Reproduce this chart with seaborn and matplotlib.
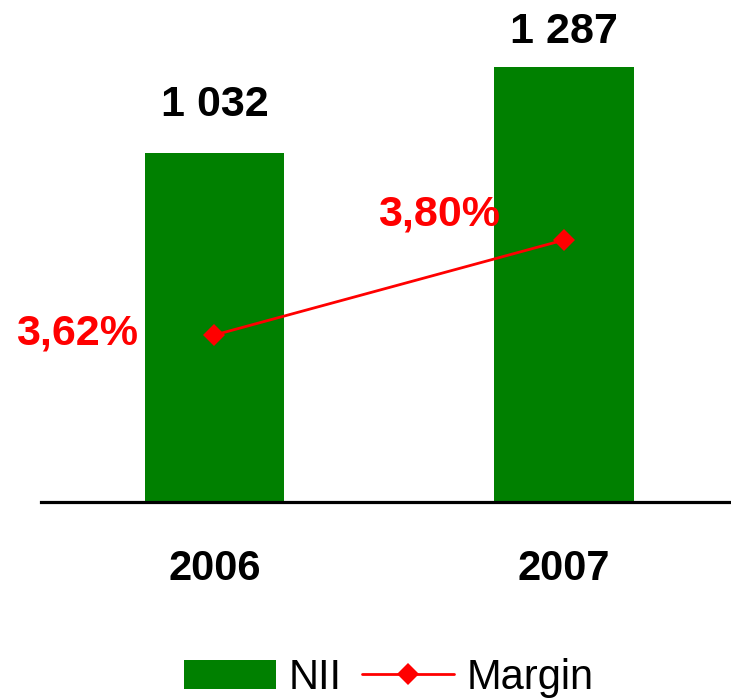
import matplotlib
matplotlib.use("Agg")
import matplotlib.pyplot as plt
import seaborn as sns

years = ["2006", "2007"]
nii = [1032, 1287]
margin = [3.62, 3.80]
series_labels = ["NII", "Margin"]

sns.set_theme(style="white")
plt.rcParams["font.family"] = ["Liberation Sans", "DejaVu Sans"]
plt.rcParams["text.color"] = "black"

GREEN = "#008000"
RED = "#ff0000"

fig = plt.figure(figsize=(7.31, 7.0), dpi=100)
ax = fig.add_axes([41 / 731, 1 - 502 / 700, 1 - 41 / 731, 502 / 700])

sns.barplot(x=years, y=nii, color=GREEN, saturation=1, width=0.4,
            linewidth=0, ax=ax)

ax2 = ax.twinx()
sns.pointplot(x=years, y=margin, color=RED, marker="D", markersize=11,
              markeredgewidth=0, ax=ax2)
for ln in ax2.lines:
    ln.set_linewidth(2.0)

xlim = (-0.4964, 1.4778)
ax.set_xlim(*xlim)
ax2.set_xlim(*xlim)
ax.set_ylim(0, 1485)
ax2.set_ylim(3.3036, 4.2547)

for a in (ax, ax2):
    for s in a.spines.values():
        s.set_visible(False)
    a.set_yticks([])
    a.set_ylabel("")
    a.set_xlabel("")
ax.spines["bottom"].set_visible(True)
ax.spines["bottom"].set_color("black")
ax.spines["bottom"].set_linewidth(2.3)
ax.tick_params(axis="x", length=0, pad=34, labelsize=30, labelcolor="black")
ax2.tick_params(axis="x", length=0, labelbottom=False)
for t in ax.get_xticklabels():
    t.set_fontweight("bold")
    t.set_color("black")

# value labels on bars
bar_offsets = [35, 25]
for i, v in enumerate(nii):
    ax.annotate(f"{v:,}".replace(",", " "), xy=(i, v),
                xytext=(0, bar_offsets[i]), textcoords="offset points",
                ha="center", va="center", fontsize=31, fontweight="bold",
                color="black")

# margin labels
m_offsets = [(-99, 1), (-90, 18)]
for i, m in enumerate(margin):
    ax2.annotate(f"{m:.2f}%".replace(".", ","), xy=(i, m),
                 xytext=m_offsets[i], textcoords="offset points",
                 ha="center", va="center", fontsize=31, fontweight="bold",
                 color=RED)

handles = [ax.patches[0], ax2.lines[0]]
leg = fig.legend(handles, series_labels, loc="center",
                 bbox_to_anchor=(389 / 731, 1 - 678 / 700), ncol=2,
                 frameon=False, fontsize=30, handlelength=2.2,
                 handleheight=0.7, handletextpad=0.3, columnspacing=0.5,
                 numpoints=1, borderpad=0, borderaxespad=0)
for t in leg.get_texts():
    t.set_color("black")

fig.savefig("out.png", dpi=100)
